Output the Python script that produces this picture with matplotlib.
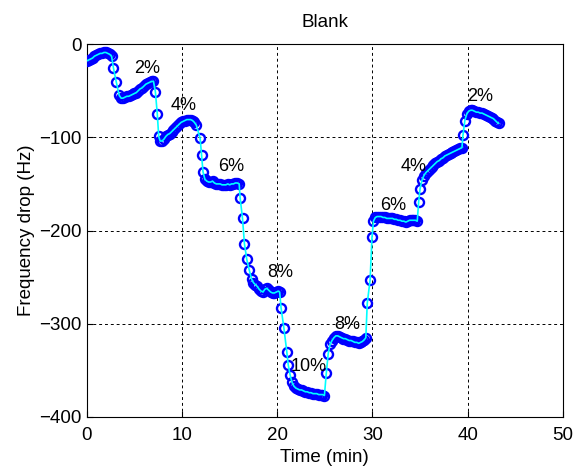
import matplotlib
matplotlib.use("Agg")
import matplotlib.pyplot as plt

time_min = [
    0.0, 0.2, 0.4, 0.6, 0.8, 1.0, 1.2, 1.4, 1.6, 1.8, 2.0, 2.2, 2.4, 2.6,
    2.8, 3.1, 3.4, 3.6, 3.8, 4.0, 4.2, 4.4, 4.6, 4.8, 5.0, 5.2, 5.4, 5.6, 5.8, 6.0, 6.2, 6.4, 6.6, 6.8, 7.0,
    7.2, 7.4, 7.55, 7.7, 7.9, 8.1, 8.3, 8.5, 8.7, 8.9, 9.1, 9.3, 9.5, 9.7, 9.9, 10.1, 10.3, 10.5, 10.7, 10.9, 11.1, 11.3, 11.5,
    11.9, 12.05, 12.2, 12.4, 12.6, 12.8, 13.0, 13.2, 13.4, 13.6, 13.8, 14.0, 14.2, 14.4, 14.6, 14.8, 15.0, 15.2, 15.4, 15.6, 15.8, 16.0,
    16.1, 16.35, 16.55, 16.8, 17.05, 17.3, 17.5, 17.7, 17.9, 18.1, 18.3, 18.5, 18.7, 18.9, 19.1, 19.3, 19.5, 19.7, 19.9, 20.1, 20.25,
    20.4, 20.7, 21.0, 21.15, 21.35, 21.55, 21.75, 21.95, 22.15, 22.35, 22.55, 22.75, 22.95, 23.15, 23.35, 23.55, 23.75, 23.95, 24.15, 24.35, 24.55, 24.75, 24.95,
    25.15, 25.35, 25.55, 25.75, 25.95, 26.15, 26.35, 26.55, 26.75, 26.95, 27.15, 27.35, 27.55, 27.75, 27.95, 28.15, 28.35, 28.55, 28.75, 28.95, 29.15, 29.3,
    29.45, 29.75, 29.95, 30.1, 30.3, 30.5, 30.7, 30.9, 31.1, 31.3, 31.5, 31.7, 31.9, 32.1, 32.3, 32.5, 32.7, 32.9, 33.1, 33.3, 33.5, 33.7, 33.9, 34.1, 34.3, 34.5, 34.7,
    34.85, 35.0, 35.2, 35.4, 35.6, 35.8, 36.0, 36.2, 36.4, 36.6, 36.8, 37.0, 37.2, 37.4, 37.6, 37.8, 38.0, 38.2, 38.4, 38.6, 38.8, 39.0, 39.2, 39.4,
    39.5, 39.7, 39.9, 40.1, 40.3, 40.5, 40.7, 40.9, 41.1, 41.3, 41.5, 41.7, 41.9, 42.1, 42.3, 42.5, 42.7, 42.9, 43.1, 43.25,
]

freq_drop_hz = [
    -18, -17, -16, -15, -13, -12, -11, -10, -10, -9, -9, -10, -11, -13,
    -26, -41, -55, -58, -58, -57, -56, -56, -55, -54, -53, -52, -50, -48, -47, -45, -43, -42, -41, -40, -40,
    -51, -75, -99, -104, -104, -102, -99, -97, -96, -94, -92, -90, -88, -86, -84, -83, -82, -81, -81, -81, -82, -84, -87,
    -101, -119, -137, -145, -147, -148, -148, -147, -149, -150, -150, -150, -151, -151, -151, -150, -151, -150, -150, -149, -149, -150,
    -165, -187, -214, -231, -242, -252, -256, -258, -260, -263, -265, -266, -263, -262, -264, -266, -267, -267, -266, -265, -266,
    -283, -305, -330, -344, -355, -363, -367, -369, -370, -371, -371, -372, -373, -373, -374, -374, -375, -375, -375, -376, -376, -376, -377,
    -353, -332, -322, -318, -315, -313, -313, -314, -315, -316, -316, -317, -318, -318, -319, -320, -320, -321, -320, -319, -317, -315,
    -278, -253, -207, -190, -186, -185, -185, -185, -186, -186, -187, -187, -187, -187, -188, -188, -189, -189, -190, -190, -191, -190, -189, -189, -189, -189, -190,
    -169, -155, -146, -141, -138, -136, -134, -132, -130, -128, -126, -125, -123, -122, -120, -119, -118, -117, -116, -115, -114, -113, -112, -111,
    -98, -82, -75, -72, -71, -71, -72, -73, -73, -74, -74, -75, -76, -77, -78, -79, -80, -82, -84, -85,
]

label_texts = ["2%", "4%", "6%", "8%", "10%", "8%", "6%", "4%", "2%"]
label_t = [6.3, 10.2, 15.2, 20.3, 23.3, 27.3, 32.2, 34.3, 41.3]
label_f = [-26, -66, -131, -245, -346, -301, -173, -131, -56]

x_ticks = [0, 10, 20, 30, 40, 50]
y_ticks = [0, -100, -200, -300, -400]

plt.rcParams['font.family'] = ['Liberation Sans', 'DejaVu Sans']

fig = plt.figure(figsize=(5.75, 4.69), dpi=100)
ax = fig.add_axes([0.151, 0.111, 0.828, 0.795])

ax.plot(time_min, freq_drop_hz, linestyle='none', marker='o', ms=6.5,
        mfc='none', mec=(0, 0, 1), mew=1.7, zorder=3)
ax.plot(time_min, freq_drop_hz, color=(0, 1, 1), lw=1.2, zorder=4)

for txt, tx, fy in zip(label_texts, label_t, label_f):
    ax.text(tx, fy, txt, ha='center', va='center', fontsize=13, zorder=5)

ax.set_xlim(0, 50)
ax.set_ylim(-400, 0)
ax.set_xticks(x_ticks)
ax.set_yticks(y_ticks)
ax.tick_params(direction='in', labelsize=13.5, length=4)
ax.tick_params(axis='x', pad=7)
ax.tick_params(axis='y', pad=4)
ax.grid(True, color='black', linestyle=(0, (3, 3)), linewidth=0.7)
for s in ax.spines.values():
    s.set_linewidth(0.8)
ax.set_xlabel('Time (min)', fontsize=13.5, labelpad=4)
ax.set_ylabel('Frequency drop (Hz)', fontsize=13.5, labelpad=3)
ax.set_title('Blank', fontsize=13.5, pad=12)

fig.savefig('out.png', dpi=100)
